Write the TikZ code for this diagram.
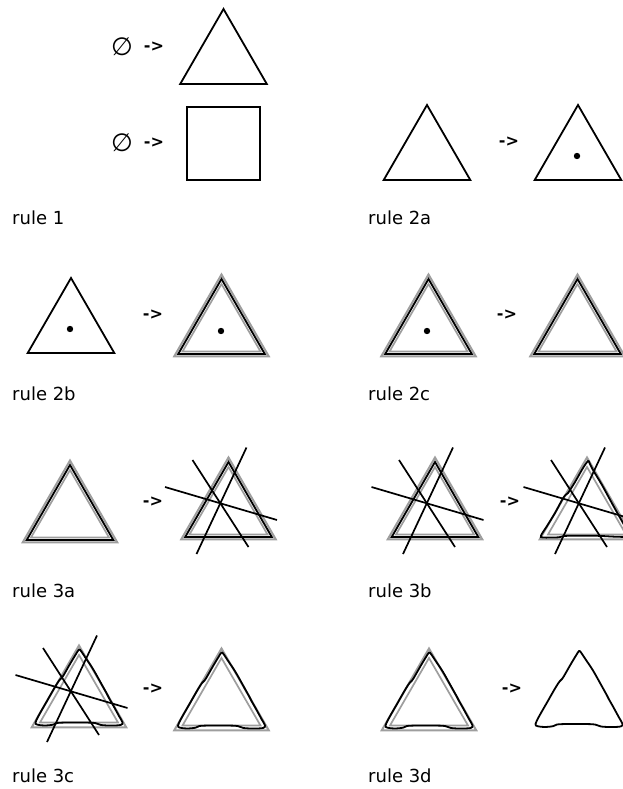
\documentclass[tikz,border=0pt]{standalone}
\usepackage{fontspec}
\setmainfont{DejaVu Sans}
\begin{document}
\begin{tikzpicture}[x=1pt,y=-1pt,
  blk/.style={draw=black, line width=1.8pt, line join=miter},
  gry/.style={draw=black!38, line width=1.7pt},
  cut/.style={draw=black, line width=1.7pt},
  lbl/.style={anchor=base west, inner sep=0pt, font=\fontsize{18}{21}\selectfont},
  arr/.style={inner sep=0pt, font=\bfseries\fontsize{16}{19}\selectfont},
  emp/.style={inner sep=0pt, font=\fontsize{25}{26}\selectfont},
  dotc/.style={fill=black},
  plaintri/.pic={\draw[blk] (0,-75) -- (-43.3,0) -- (43.3,0) -- cycle;},
  graytri/.pic={
    \draw[gry,line width=2pt] (0,-79.5) -- (-47.2,2.25) -- (47.2,2.25) -- cycle;
    \draw[gry] (0,-70) -- (-39,-2.5) -- (39,-2.5) -- cycle;},
  tripletri/.pic={
    \draw[gry,line width=2pt] (0,-79.5) -- (-47.2,2.25) -- (47.2,2.25) -- cycle;
    \draw[gry] (0,-70) -- (-39,-2.5) -- (39,-2.5) -- cycle;
    \draw[blk] (0,-75) -- (-43.3,0) -- (43.3,0) -- cycle;},
  cutlines/.pic={
    \draw[cut] (-63.5,-50) -- (48.5,-17);
    \draw[cut] (-36,-77) -- (20,10);
    \draw[cut] (18,-89.5) -- (-32,17);},
  wavy/.pic={
    \draw[blk] plot[smooth cycle, tension=0.55] coordinates {
      (0,-75.5) (-3,-71) (-9,-61) (-15,-50.5) (-17,-47.5) (-19.5,-45)
      (-24,-38) (-32,-24) (-40,-10) (-43.5,-2.5) (-41.5,-0.3)
      (-34,0.5) (-26,-0.3) (-22,-2) (-12,-2.5) (5,-2.5) (16,-2)
      (22,0) (32,0.5) (41.5,0) (43.5,-2.5) (40,-9) (34,-20)
      (30,-27) (28,-31) (23,-40) (14,-56) (6,-68) (2,-74)};},
  mildwavy/.pic={
    \draw[blk] plot[smooth cycle, tension=0.5] coordinates {
      (1,-76) (-4,-69) (-12,-55) (-19,-44) (-22,-41.5) (-25,-37)
      (-32,-24) (-40,-11) (-46,-1.5) (-44,0.5) (-28,0.3) (-24,-0.8)
      (-18,-1.2) (10,-1.2) (28,-0.3) (42,-0.2) (43,-2)
      (36,-14) (27,-30) (15,-52) (6,-67) (2.5,-74)};}
]
\useasboundingbox (0,0) rectangle (623,789);

% rule 1
\node[emp] (e1) at (122,47) {∅};
\node[arr] (a1) at (154,47) {->};
\pic (t1) at (223.5,84) {plaintri};
\node[emp] (e2) at (122,143) {∅};
\node[arr] (a2) at (154,143) {->};
\draw[blk] (187,107) rectangle (260,180);
\node[lbl] (l1) at (12,224) {rule 1};

% rule 2a
\pic (t2al) at (427,180) {plaintri};
\node[arr] (a2a) at (509,142) {->};
\pic (t2ar) at (578,180) {plaintri};
\fill[dotc] (577,156) circle (3.2);
\node[lbl] (l2a) at (368,224) {rule 2a};

% rule 2b
\pic (t2bl) at (71,353) {plaintri};
\fill[dotc] (70,329) circle (3.2);
\node[arr] (a2b) at (153,315) {->};
\pic (t2br) at (221.5,354) {tripletri};
\fill[dotc] (221,331) circle (3.2);
\node[lbl] (l2b) at (12,400) {rule 2b};

% rule 2c
\pic (t2cl) at (428.5,354) {tripletri};
\fill[dotc] (427,331) circle (3.2);
\node[arr] (a2c) at (507,315) {->};
\pic (t2cr) at (577.5,354) {tripletri};
\node[lbl] (l2c) at (368,400) {rule 2c};

% rule 3a
\pic (t3al) at (70,540) {tripletri};
\node[arr] (a3a) at (153,502) {->};
\pic (t3ar) at (228.5,537) {tripletri};
\pic (c3ar) at (228.5,537) {cutlines};
\node[lbl] (l3a) at (12,597) {rule 3a};

% rule 3b
\pic (t3bl) at (435,537) {tripletri};
\pic (c3bl) at (435,537) {cutlines};
\node[arr] (a3b) at (510,502) {->};
\pic (g3br) at (587,537) {graytri};
\pic (w3br) at (587,537) {mildwavy};
\pic (c3br) at (587,537) {cutlines};
\node[lbl] (l3b) at (368,597) {rule 3b};

% rule 3c
\pic (g3cl) at (79,725) {graytri};
\pic (w3cl) at (79,725) {wavy};
\pic (c3cl) at (79,725) {cutlines};
\node[arr] (a3c) at (153,689) {->};
\pic (g3cr) at (221.5,728) {graytri};
\pic (w3cr) at (221.5,728) {wavy};
\node[lbl] (l3c) at (12,782) {rule 3c};

% rule 3d
\pic (g3dl) at (429,728) {graytri};
\pic (w3dl) at (429,728) {wavy};
\node[arr] (a3d) at (512,689) {->};
\pic (w3dr) at (579,726.5) {wavy};
\node[lbl] (l3d) at (368,782) {rule 3d};
\end{tikzpicture}
\end{document}
